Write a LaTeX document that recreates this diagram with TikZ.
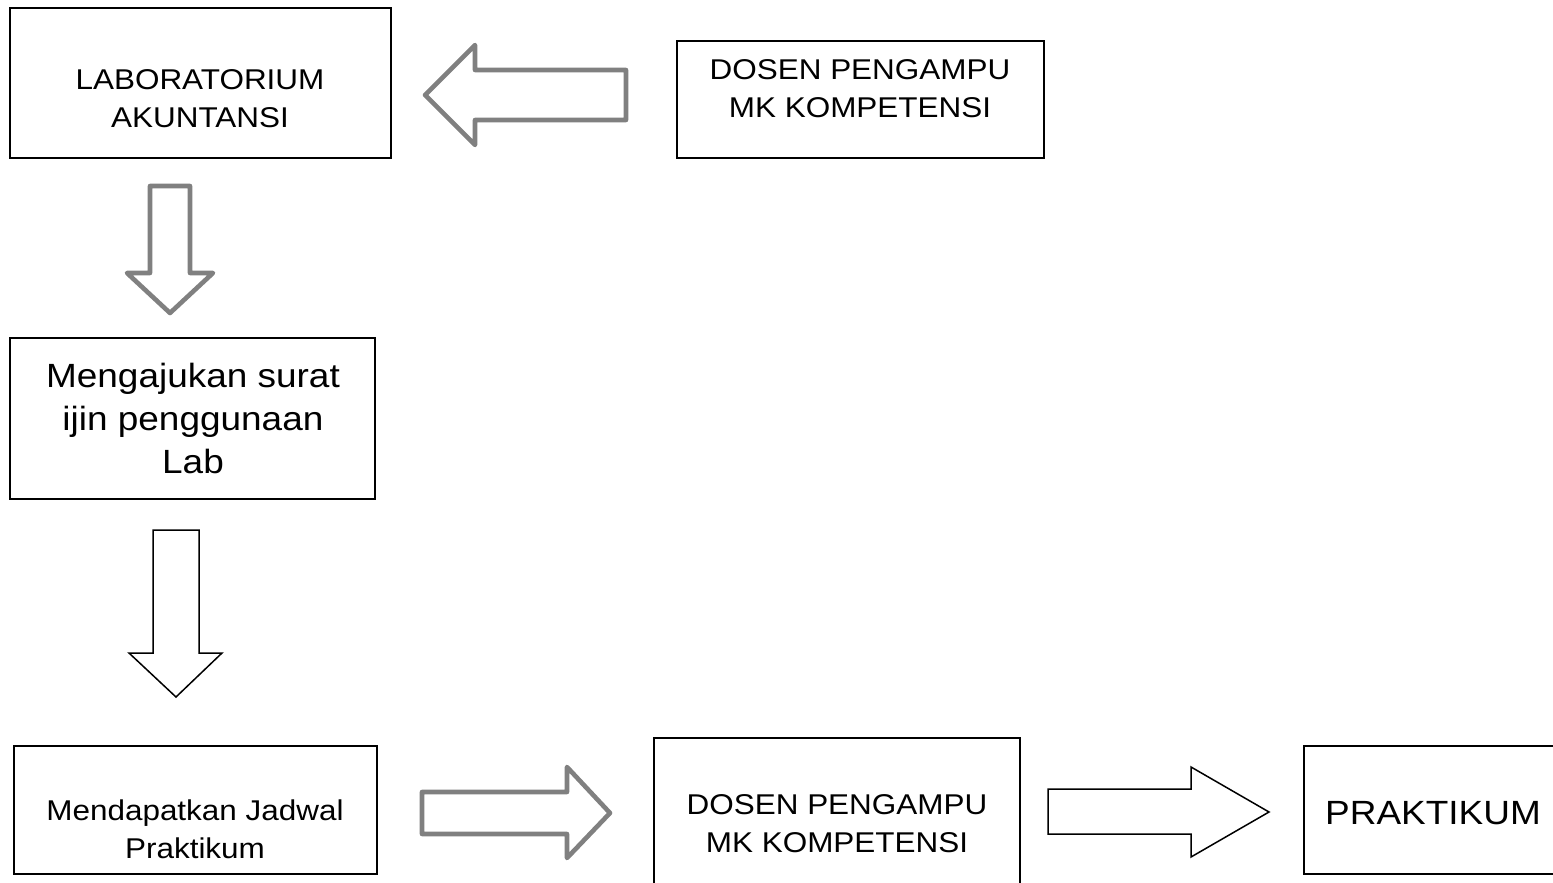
\documentclass[tikz,border=0pt]{standalone}
\usepackage{fontspec}
\setmainfont{Liberation Sans}[FakeStretch=1.1]
\tikzset{
  box/.style={draw,line width=0.75pt,inner sep=0pt},
  small/.style={align=center,inner sep=0pt,font=\fontsize{14.3}{19}\selectfont},
  big/.style={align=center,inner sep=0pt,font=\fontsize{16.8}{21.5}\selectfont},
  grayarr/.style={draw=gray,line width=2.3pt,line join=round,fill=white},
  blackarr/.style={draw=black,line width=0.75pt,fill=white}
}
\begin{document}
\begin{tikzpicture}[x=0.5pt,y=-0.5pt]
  \clip (0,0) rectangle (1553,883);

%% boxes
  \node[box,minimum width=190.5pt,minimum height=75pt] (lab) at (200.5,83) {};
  \node[box,minimum width=183.5pt,minimum height=58.5pt] (dosen1) at (860.5,99.5) {};
  \node[box,minimum width=182.5pt,minimum height=80.5pt] (surat) at (192.5,418.5) {};
  \node[box,minimum width=181.5pt,minimum height=64pt] (jadwal) at (195.5,810) {};
  \node[box,minimum width=183pt,minimum height=76pt] (dosen2) at (837,814) {};
  \node[box,minimum width=148pt,minimum height=64pt] (prak) at (1452,810) {};

%% texts
  \node[small] (labtxt) at (200,99) {LABORATORIUM\\AKUNTANSI};
  \node[small] (dosen1txt) at (860,89) {DOSEN PENGAMPU\\MK KOMPETENSI};
  \node[big] (surattxt) at (193,418) {Mengajukan surat\\ijin penggunaan\\Lab};
  \node[small] (jadwaltxt) at (195,829) {Mendapatkan Jadwal\\Praktikum};
  \node[small] (dosen2txt) at (837,824) {DOSEN PENGAMPU\\MK KOMPETENSI};
  \node[big] (praktxt) at (1433,813) {PRAKTIKUM};

%% gray arrows
  \draw[grayarr] (425,95) -- (475,45) -- (475,70) -- (626,70) -- (626,120)
    -- (475,120) -- (475,145) -- cycle;
  \draw[grayarr] (150,186) -- (190,186) -- (190,273) -- (213,273) -- (170,313)
    -- (127,273) -- (150,273) -- cycle;
  \draw[grayarr] (422,792) -- (567,792) -- (567,767) -- (610,813) -- (567,858)
    -- (567,834) -- (422,834) -- cycle;

%% black arrows
  \draw[blackarr] (153,530) -- (199,530) -- (199,653) -- (222,653) -- (176,697)
    -- (129,653) -- (153,653) -- cycle;
  \draw[blackarr] (1048,789) -- (1191,789) -- (1191,767) -- (1269,812) -- (1191,857)
    -- (1191,834) -- (1048,834) -- cycle;
\end{tikzpicture}
\end{document}
